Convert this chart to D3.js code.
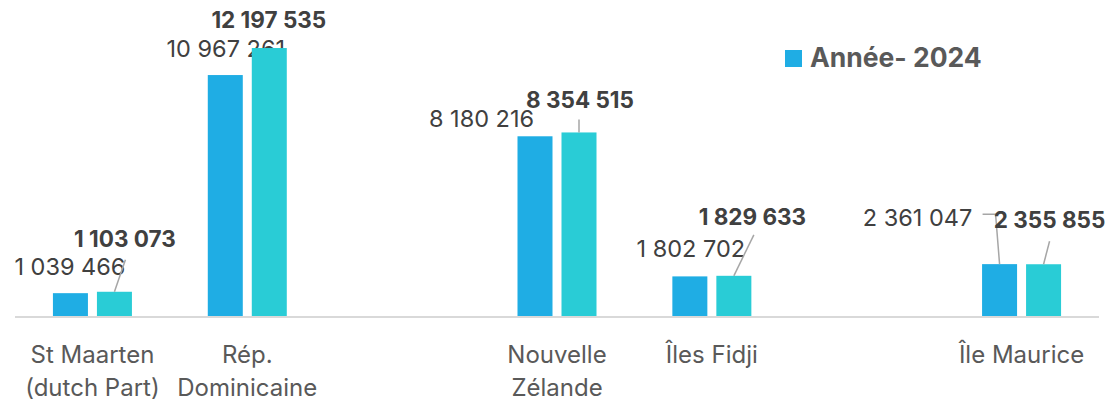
<!DOCTYPE html>
<html>
<head>
<meta charset="utf-8">
<script src="https://d3js.org/d3.v7.min.js"></script>
<style>
  body { margin: 0; background: #fff; }
  svg { font-family: Inter, 'Open Sans', sans-serif; }
</style>
</head>
<body>
<svg id="chart" width="1109" height="404"></svg>
<script>
// categories (empty slots keep the spacing of the original)
const categories = ["St Maarten|(dutch Part)", "Rép.|Dominicaine", "_gap1", "Nouvelle|Zélande", "Îles Fidji", "_gap2", "Île Maurice"];
const series = ["s1", "s2"];
const values1 = [1039466, 10967261, null, 8180216, 1802702, null, 2361047];
const values2 = [1103073, 12197535, null, 8354515, 1829633, null, 2355855];
const legendLabel = "Année- 2024";

// label placement relative to bar top centre: [dx, dy] of text centre/baseline
const labelOff1 = [[-0.5, -18], [0.5, -18], null, [-53.5, -9], [1, -19], null, [-82, -38]];
const labelOff2 = [[10.5, -45], [-0.5, -20], null, [1, -24.5], [18.5, -51], null, [6, -36]];
// leader lines, points relative to bar top centre
const leader1 = [null, null, null, null, null, null, [[0, 0], [-4, -50], [-17, -50]]];
const leader2 = [[[0, 0], [11, -32]], null, null, [[0, 0], [0, -13]], [[0, 0], [20, -41]], null, [[0, 0], [6, -23]]];

const colors = {s1: "#1fade4", s2: "#29ccd6"};
const fmt = v => d3.format(",")(v).replace(/,/g, " ");

const svg = d3.select("#chart");
const baseY = 316;

const x0 = d3.scaleBand().domain(categories).range([15, 1099]).padding(0);
const x1 = d3.scaleBand().domain(series).range([-39.5, 39.5]).paddingInner(9 / 44);
const y = d3.scaleLinear().domain([0, 14000000]).range([baseY, baseY - 14 * 21.97]);

// axis line
svg.append("line")
  .attr("x1", 15).attr("x2", 1099)
  .attr("y1", baseY + 1).attr("y2", baseY + 1)
  .attr("stroke", "#d9d9d9").attr("stroke-width", 2);

const sets = [
  {key: "s1", vals: values1, off: labelOff1, lead: leader1, weight: 400, size: "23.5px"},
  {key: "s2", vals: values2, off: labelOff2, lead: leader2, weight: 700, size: "22.5px"}
];

sets.forEach(s => {
  categories.forEach((c, i) => {
    const v = s.vals[i];
    if (v == null) return;
    const cx = x0(c) + x0.bandwidth() / 2 + x1(s.key);
    const top = y(v);
    svg.append("rect")
      .attr("x", cx).attr("y", top)
      .attr("width", x1.bandwidth()).attr("height", baseY - top)
      .attr("fill", colors[s.key]);

    const mid = cx + x1.bandwidth() / 2;
    if (s.lead[i]) {
      svg.append("polyline")
        .attr("points", s.lead[i].map(p => (mid + p[0]) + "," + (top + p[1])).join(" "))
        .attr("fill", "none")
        .attr("stroke", "#a6a6a6")
        .attr("stroke-width", 1.5);
    }
    const o = s.off[i];
    svg.append("text")
      .attr("x", mid + o[0]).attr("y", top + o[1])
      .attr("text-anchor", "middle")
      .attr("font-size", s.size)
      .attr("font-weight", s.weight)
      .attr("fill", "#404040")
      .text(fmt(v));
  });
});

// category labels
categories.forEach(c => {
  if (c.startsWith("_")) return;
  const t = svg.append("text")
    .attr("x", x0(c) + x0.bandwidth() / 2)
    .attr("y", 363)
    .attr("text-anchor", "middle")
    .attr("font-size", "24px")
    .attr("fill", "#595959");
  c.split("|").forEach((line, k) => {
    t.append("tspan")
      .attr("x", x0(c) + x0.bandwidth() / 2)
      .attr("dy", k === 0 ? 0 : 33)
      .text(line);
  });
});

// legend
svg.append("rect")
  .attr("x", 785).attr("y", 50).attr("width", 17).attr("height", 17)
  .attr("fill", colors.s1);
svg.append("text")
  .attr("x", 810).attr("y", 67)
  .attr("font-size", "26.5px").attr("font-weight", 700)
  .attr("fill", "#595959")
  .text(legendLabel);
</script>
</body>
</html>
